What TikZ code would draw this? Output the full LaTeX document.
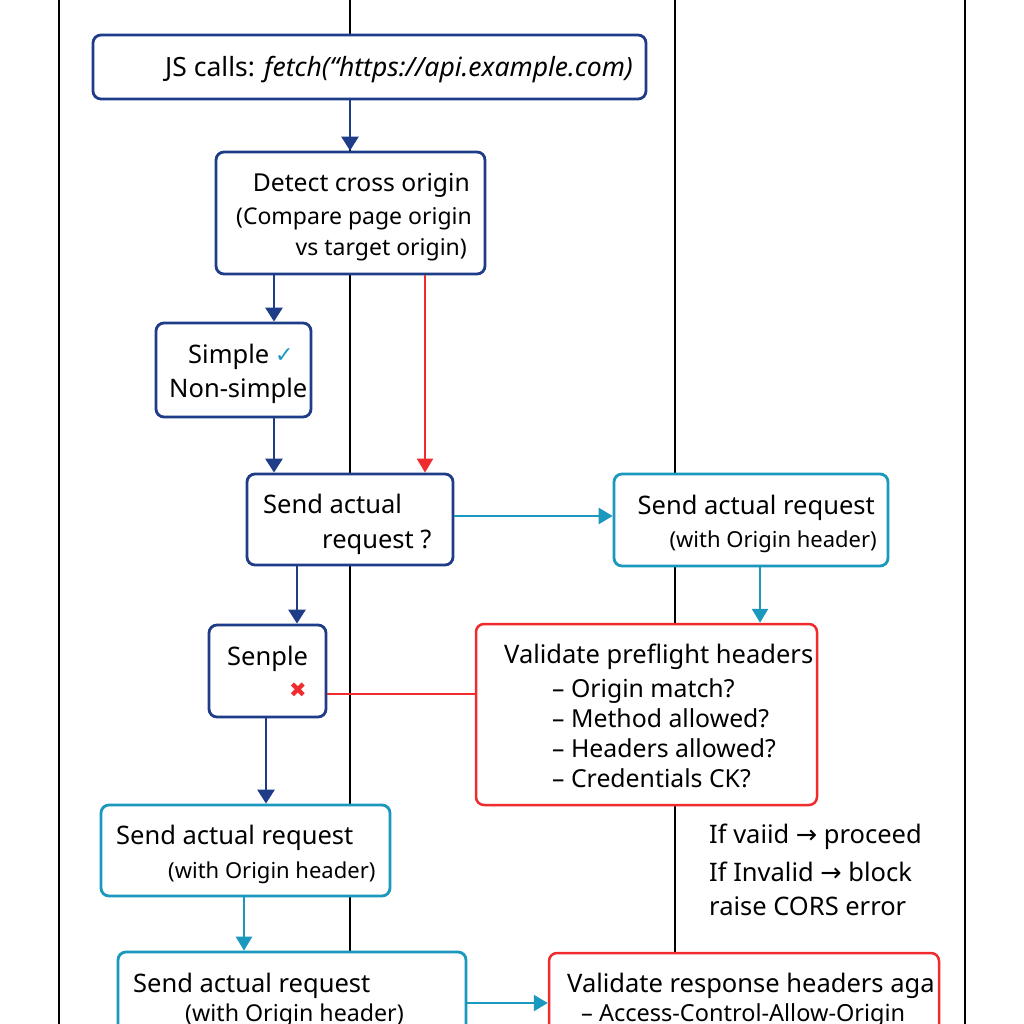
\documentclass[tikz,border=0pt]{standalone}
\usepackage{fontspec}
\setmainfont{Noto Sans}
\newfontfamily\symfont{DejaVu Sans}
\usetikzlibrary{arrows.meta}
\definecolor{navy}{HTML}{1F3C88}
\definecolor{tealc}{HTML}{1A98BD}
\definecolor{redc}{HTML}{EF2B2D}
\begin{document}
\begin{tikzpicture}[x=1pt,y=-1pt,
  box/.style={draw, fill=white, line width=2.8pt, rounded corners=8pt, inner sep=0pt},
  nbox/.style={box, draw=navy},
  tbox/.style={box, draw=tealc},
  rbox/.style={box, draw=redc, line width=2.5pt},
  tx/.style={inner sep=0pt, font=\fontsize{25.5}{30}\selectfont},
  sm/.style={font=\fontsize{22}{26}\selectfont},
  bul/.style={font=\fontsize{24.8}{30}\selectfont},
  lane/.style={draw=black, line width=1.4pt},
  narr/.style={draw=navy, line width=2.8pt, -{Triangle[length=14pt,width=17pt]}},
  tarr/.style={draw=tealc, line width=2.5pt, -{Triangle[length=14pt,width=16pt]}},
  rarr/.style={draw=redc, line width=2.3pt, -{Triangle[length=14pt,width=16pt]}},
  rline/.style={draw=redc, line width=2.3pt}
]
\useasboundingbox (0,0) rectangle (1024,1024);
\clip (0,0) rectangle (1024,1024);
\fill[white] (0,0) rectangle (1024,1024);
% lanes
\coordinate (l1t) at (59,0);   \coordinate (l1b) at (59,1024);
\coordinate (l2t) at (350,0);  \coordinate (l2b) at (350,1024);
\coordinate (l3t) at (675,0);  \coordinate (l3b) at (675,1024);
\coordinate (l4t) at (965,0);  \coordinate (l4b) at (965,1024);
\draw[lane] (l1t) -- (l1b);
\draw[lane] (l2t) -- (l2b);
\draw[lane] (l3t) -- (l3b);
\draw[lane] (l4t) -- (l4b);
% boxes
\node[nbox, minimum width=553pt, minimum height=64pt] (b1) at (369.5,67) {};
\node[nbox, minimum width=269pt, minimum height=122pt] (b2) at (350.5,213) {};
\node[nbox, minimum width=155pt, minimum height=94pt] (b3) at (233.5,370) {};
\node[nbox, minimum width=206pt, minimum height=91pt] (b4) at (350,519.5) {};
\node[tbox, minimum width=274pt, minimum height=92pt] (b5) at (751,520) {};
\node[rbox, minimum width=341pt, minimum height=181pt] (b6) at (646.5,714.5) {};
\node[nbox, minimum width=117pt, minimum height=92pt] (b7) at (267.5,671) {};
\node[tbox, minimum width=289pt, minimum height=91pt] (b8) at (245.5,850.5) {};
\node[tbox, minimum width=348pt, minimum height=108pt] (b9) at (292,1006) {};
\node[rbox, minimum width=390pt, minimum height=107pt] (b10) at (744,1006.5) {};
% connector x/y references
\coordinate (x350) at (350,0);
\coordinate (x274) at (274,0);
\coordinate (x425) at (425,0);
\coordinate (x297) at (297,0);
\coordinate (x266) at (266,0);
\coordinate (x760) at (760,0);
\coordinate (x244) at (244,0);
\coordinate (y516) at (0,516);
\coordinate (y694) at (0,694);
\coordinate (y1003) at (0,1003);
% connectors
\draw[narr] (b1.south -| x350) -- (b2.north -| x350);
\draw[narr] (b2.south -| x274) -- (b3.north -| x274);
\draw[rarr] (b2.south -| x425) -- (b4.north -| x425);
\draw[narr] (b3.south -| x274) -- (b4.north -| x274);
\draw[tarr] (b4.east |- y516) -- (b5.west |- y516);
\draw[tarr] (b5.south -| x760) -- (b6.north -| x760);
\draw[narr] (b4.south -| x297) -- (b7.north -| x297);
\draw[rline] (b7.east |- y694) -- (b6.west |- y694);
\draw[narr] (b7.south -| x266) -- (b8.north -| x266);
\draw[tarr] (b8.south -| x244) -- (b9.north -| x244);
\draw[tarr] (b9.east |- y1003) -- (b10.west |- y1003);
% texts
\node[tx, anchor=base west, font=\fontsize{26.5}{30}\selectfont] (t1) at (165,77) {JS calls: \textit{fetch(“https://api.example.com)}};
\node[tx, anchor=base east, font=\fontsize{24.7}{30}\selectfont] (t2a) at (470,192) {Detect cross origin};
\node[tx, anchor=base east, font=\fontsize{23}{28}\selectfont] (t2b) at (472,225) {(Compare page origin};
\node[tx, anchor=base east, font=\fontsize{23}{28}\selectfont] (t2c) at (467,255) {vs target origin)};
\node[tx, anchor=base west] (t3a) at (188,363) {Simple};
\node[tx, anchor=base west, text=tealc, font=\symfont\fontsize{22}{26}\selectfont] (t3c) at (275,362) {✓};
\node[tx, anchor=base west] (t3b) at (169,397) {Non-simple};
\node[tx, anchor=base west] (t4a) at (263,513) {Send actual};
\node[tx, anchor=base west] (t4b) at (322,548) {request ?};
\node[tx, anchor=base east] (t5a) at (875,514) {Send actual request};
\node[tx, anchor=base east, sm] (t5b) at (877,547) {(with Origin header)};
\node[tx, anchor=base west] (t6a) at (504,663) {Validate preflight headers};
\node[tx, anchor=base west, bul] (t6b) at (552,697) {– Origin match?};
\node[tx, anchor=base west, bul] (t6c) at (552,727) {– Method allowed?};
\node[tx, anchor=base west, bul] (t6d) at (552,757) {– Headers allowed?};
\node[tx, anchor=base west, bul] (t6e) at (552,787) {– Credentials CK?};
\node[tx, anchor=base west] (t7a) at (227,665) {Senple};
\node[tx, text=redc, font=\symfont\bfseries\fontsize{21}{24}\selectfont] (t7b) at (298,690) {✖};
\node[tx, anchor=base west] (t8a) at (709,843) {If vaiid {\symfont →} proceed};
\node[tx, anchor=base west] (t8b) at (709,881) {If Invalid {\symfont →} block};
\node[tx, anchor=base west] (t8c) at (709,915) {raise CORS error};
\node[tx, anchor=base west] (t9a) at (116,844) {Send actual request};
\node[tx, anchor=base west, sm] (t9b) at (168,878) {(with Origin header)};
\node[tx, anchor=base west] (t10a) at (133,992) {Send actual request};
\node[tx, anchor=base west, font=\fontsize{23.2}{28}\selectfont] (t10b) at (185,1021) {(with Origin header)};
\node[tx, anchor=base west] (t11a) at (567,992) {Validate response headers aga};
\node[tx, anchor=base west, font=\fontsize{23.5}{28}\selectfont] (t11b) at (581,1021) {– Access-Control-Allow-Origin};
\end{tikzpicture}
\end{document}
